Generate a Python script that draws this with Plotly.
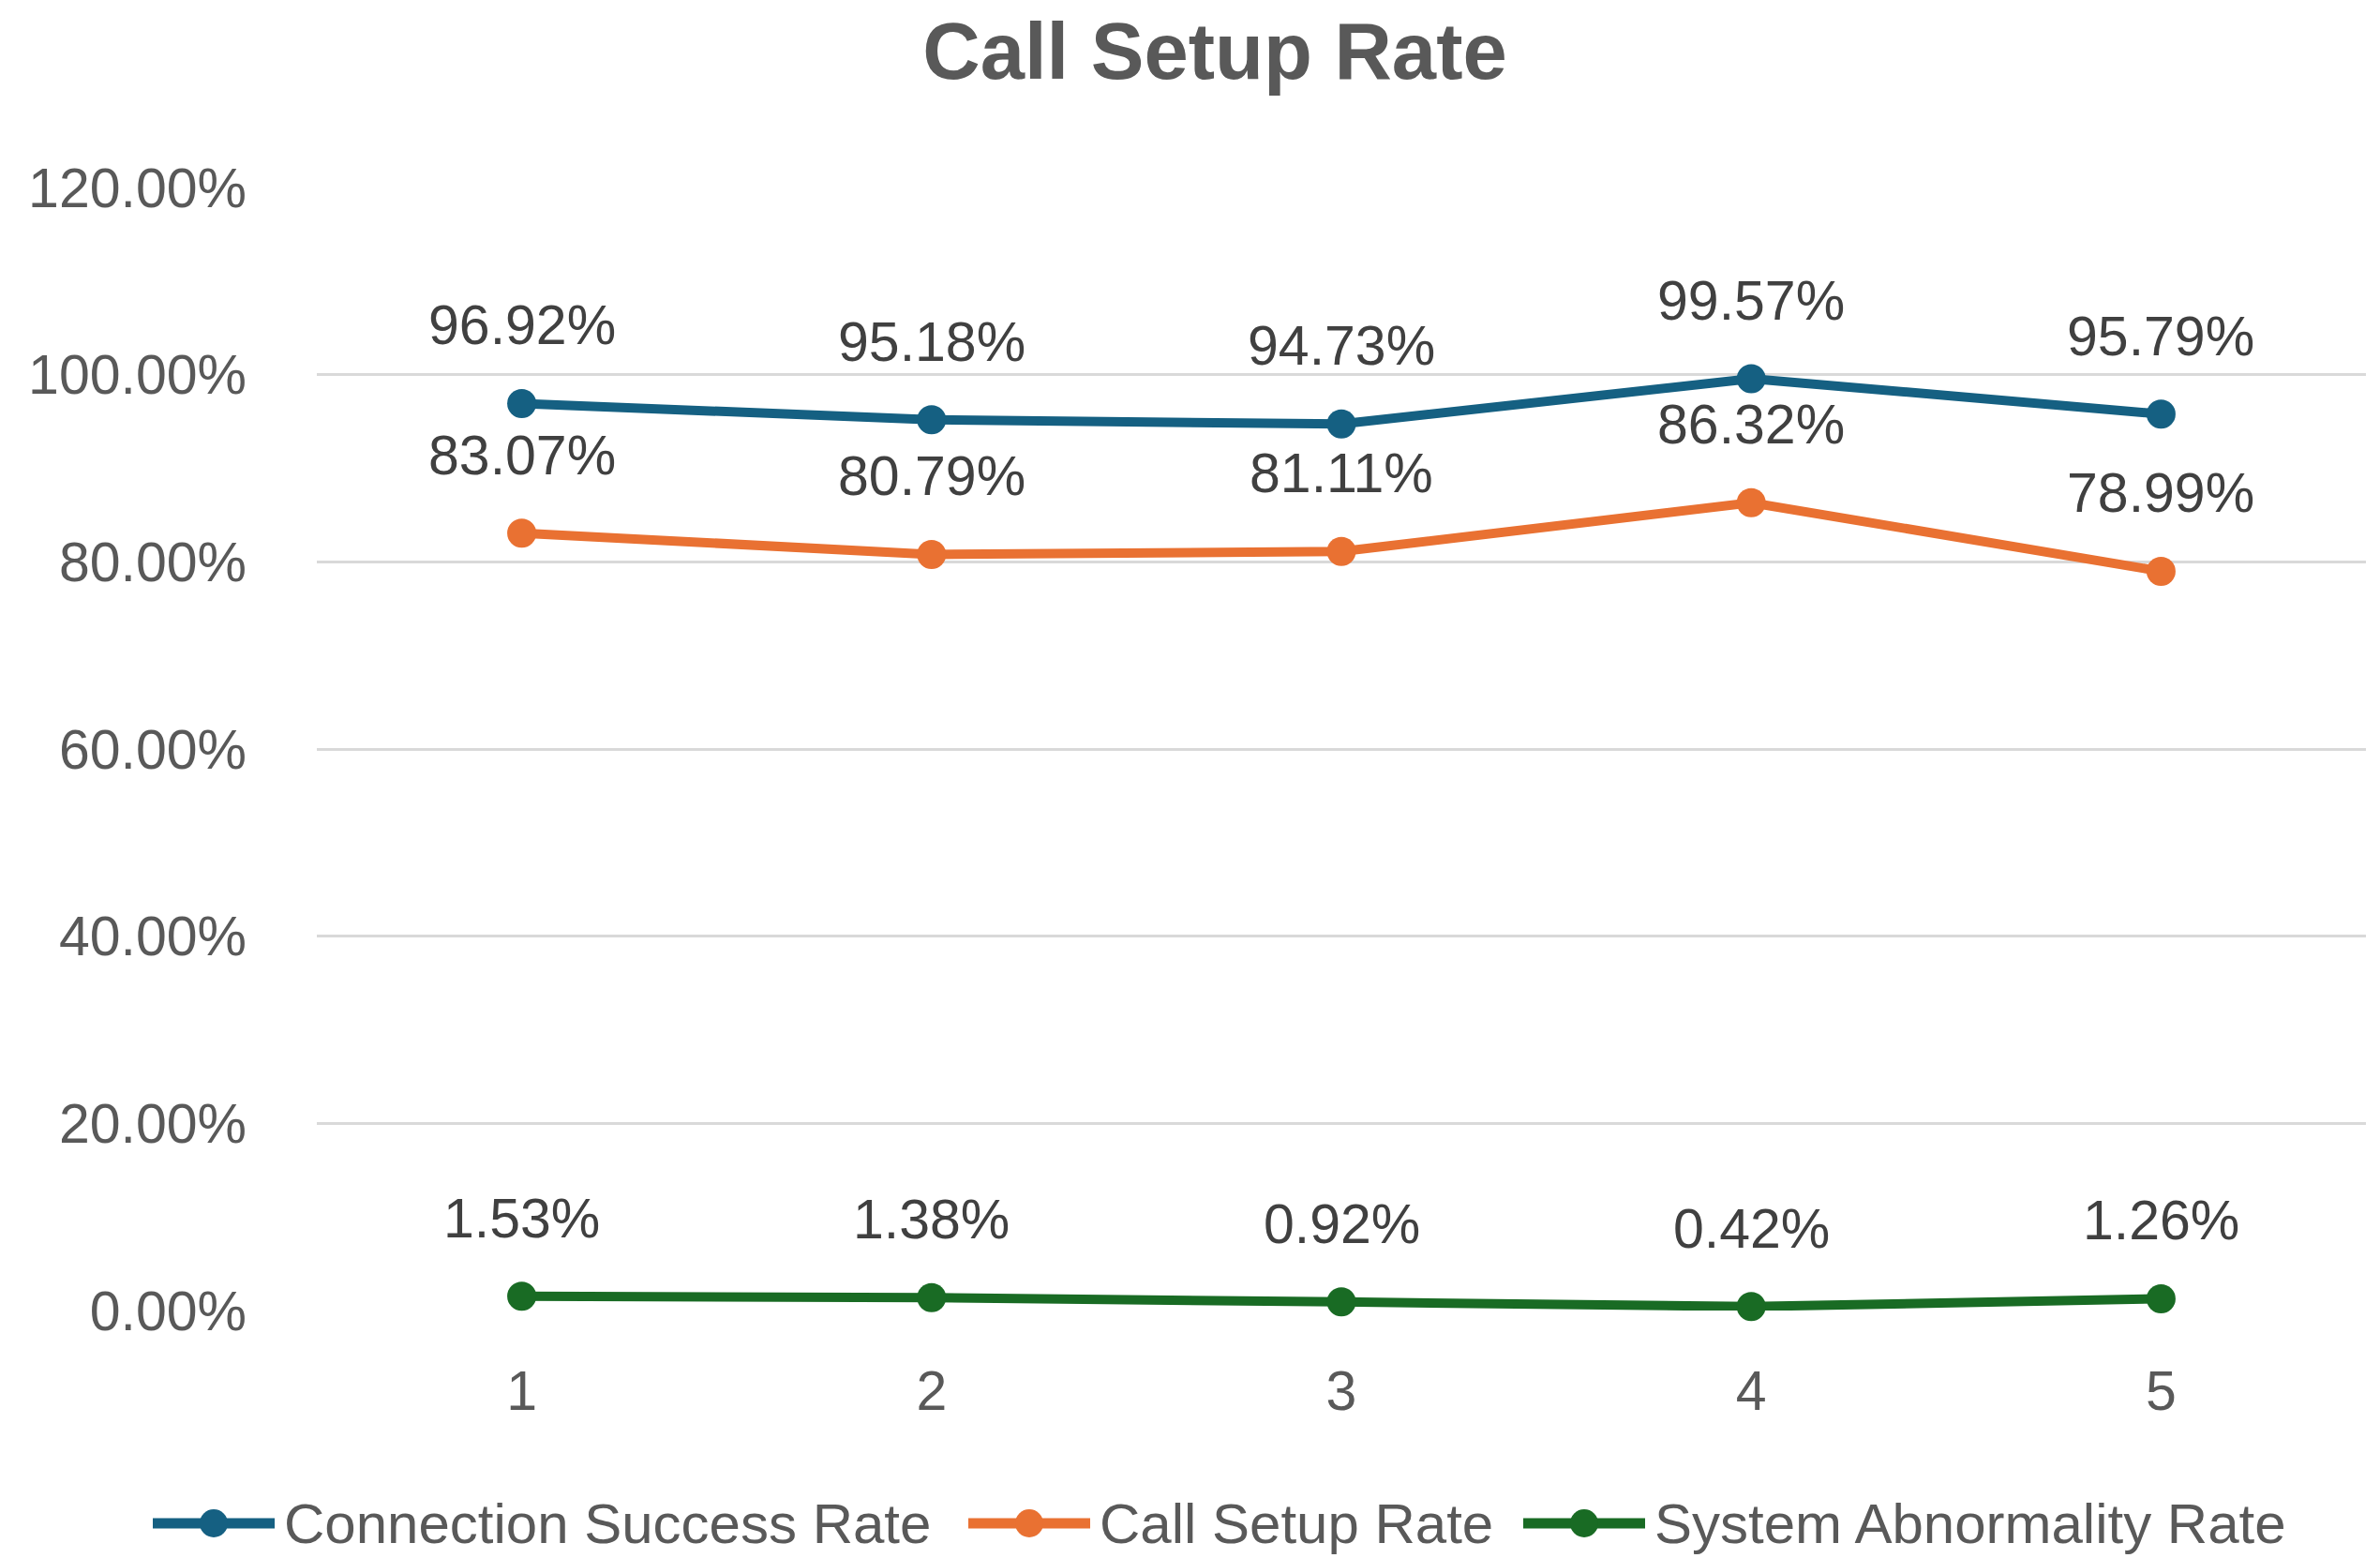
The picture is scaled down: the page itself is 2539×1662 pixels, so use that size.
import plotly.graph_objects as go

categories = ["1", "2", "3", "4", "5"]
connection_success = [0.9692, 0.9518, 0.9473, 0.9957, 0.9579]
call_setup = [0.8307, 0.8079, 0.8111, 0.8632, 0.7899]
system_abnormality = [0.0153, 0.0138, 0.0092, 0.0042, 0.0126]

series_names = ["Connection Success Rate", "Call Setup Rate", "System Abnormality Rate"]
series_values = [connection_success, call_setup, system_abnormality]
series_colors = ["#156082", "#E97132", "#196B24"]

FONT = "Liberation Sans, Arial, sans-serif"
TXT = "#595959"
LBL = "#404040"
FS = 59

W, H = 2539, 1662
L, R, T, B = 330, 23, 192, 272
PW, PH = W - L - R, H - T - B

fig = go.Figure()
for name, vals, color in zip(series_names, series_values, series_colors):
    fig.add_trace(go.Scatter(
        x=categories, y=vals, name=name,
        mode="lines+markers",
        line=dict(color=color, width=10),
        marker=dict(color=color, size=31),
        cliponaxis=False, showlegend=False,
    ))
    # category axis: annotation x is the category index
    for idx, v in enumerate(vals):
        fig.add_annotation(
            x=idx, y=v, xref="x", yref="y", text=f"{v*100:.2f}%", showarrow=False,
            xanchor="center", yanchor="middle", yshift=83,
            font=dict(family=FONT, size=FS, color=LBL),
        )

# Excel-style legend (long line symbol with a centred marker)
legend_starts_px = [155, 1025, 1617]
legend_y_px = 1617
sym_len = 130
def px_x(p):
    return (p - L) / PW
def px_y(p):
    return (H - B - p) / PH
for name, color, x0 in zip(series_names, series_colors, legend_starts_px):
    fig.add_shape(type="line", xref="paper", yref="paper",
                  x0=px_x(x0), x1=px_x(x0 + sym_len), y0=px_y(legend_y_px), y1=px_y(legend_y_px),
                  line=dict(color=color, width=11))
    fig.add_shape(type="circle", xref="paper", yref="paper",
                  xsizemode="pixel", ysizemode="pixel",
                  xanchor=px_x(x0 + sym_len / 2), yanchor=px_y(legend_y_px),
                  x0=-15, x1=15, y0=-15, y1=15,
                  fillcolor=color, line=dict(color=color, width=0))
    fig.add_annotation(xref="paper", yref="paper", x=px_x(x0 + sym_len + 8), y=px_y(legend_y_px),
                       text=name, showarrow=False, xanchor="left", yanchor="middle",
                       font=dict(family=FONT, size=FS + 1, color=TXT))

fig.update_layout(
    width=W, height=H,
    paper_bgcolor="white", plot_bgcolor="white",
    margin=dict(l=L, r=R, t=T, b=B),
    title=dict(text="<b>Call Setup Rate</b>", x=1288 / W, xanchor="center",
               y=1 - 46 / H, yanchor="middle", yref="container",
               font=dict(family=FONT, size=85, color=TXT)),
    font=dict(family=FONT, size=FS, color=TXT),
    showlegend=False,
)
fig.update_xaxes(
    type="category", categoryorder="array", categoryarray=categories,
    range=[-0.5, 4.5],
    showgrid=False, showline=False, zeroline=False,
    ticks="", ticklabelstandoff=46,
    tickfont=dict(family=FONT, size=FS, color=TXT),
)
fig.update_yaxes(
    range=[0, 1.2], dtick=0.2, tick0=0, tickformat=".2%",
    showgrid=True, gridcolor="#D9D9D9", gridwidth=3,
    zeroline=False, showline=False, ticks="", ticklabelstandoff=74,
    tickfont=dict(family=FONT, size=FS, color=TXT),
)

fig.write_html("out.html")
